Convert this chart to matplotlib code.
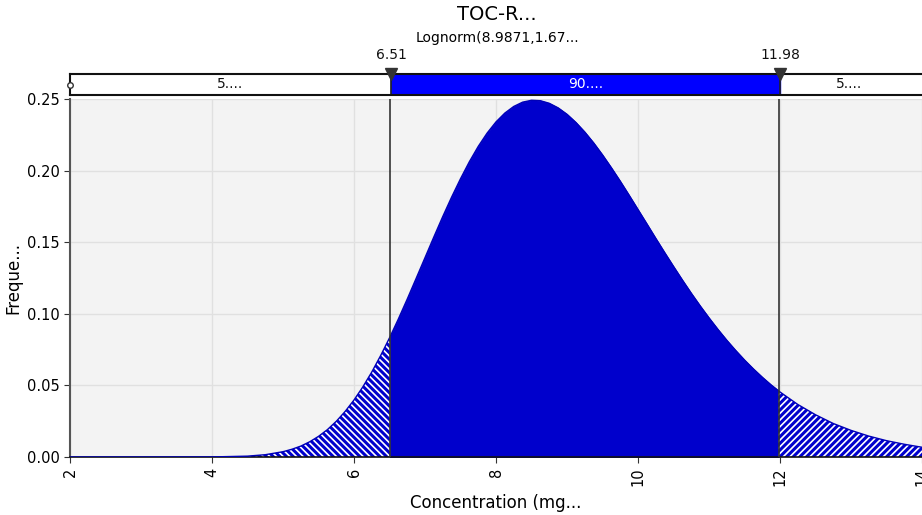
import matplotlib
matplotlib.use("Agg")
import matplotlib.pyplot as plt
import numpy as np

# ---- data ----
conc = [2.0, 3.0, 4.0, 4.5, 4.75, 5.0, 5.125, 5.25, 5.375, 5.5, 5.625, 5.75,
        5.875, 6.0, 6.125, 6.25, 6.375, 6.5, 6.51, 6.625, 6.75, 6.875, 7.0,
        7.125, 7.25, 7.375, 7.5, 7.625, 7.75, 7.875, 8.0, 8.125, 8.25, 8.375,
        8.5, 8.625, 8.75, 8.875, 9.0, 9.125, 9.25, 9.375, 9.5, 9.625, 9.75,
        9.875, 10.0, 10.125, 10.25, 10.375, 10.5, 10.625, 10.75, 10.875,
        11.0, 11.125, 11.25, 11.375, 11.5, 11.625, 11.75, 11.875, 11.98,
        12.0, 12.25, 12.5, 12.75, 13.0, 13.25, 13.5, 13.75, 14.0]
freq = [0.0, 0.0, 0.00005, 0.0006, 0.0016, 0.0037, 0.0054, 0.0076, 0.0106,
        0.0144, 0.0191, 0.0249, 0.0318, 0.0398, 0.0490, 0.0593, 0.0708,
        0.0832, 0.0842, 0.0964, 0.1103, 0.1247, 0.1392, 0.1537, 0.1679,
        0.1815, 0.1943, 0.2062, 0.2169, 0.2262, 0.2340, 0.2402, 0.2448,
        0.2478, 0.2491, 0.2488, 0.2470, 0.2438, 0.2393, 0.2336, 0.2269,
        0.2193, 0.2109, 0.2019, 0.1925, 0.1827, 0.1727, 0.1627, 0.1526,
        0.1427, 0.1330, 0.1235, 0.1143, 0.1055, 0.0971, 0.0891, 0.0815,
        0.0744, 0.0677, 0.0615, 0.0557, 0.0503, 0.0462, 0.0454, 0.0367,
        0.0295, 0.0234, 0.0186, 0.0146, 0.0114, 0.0089, 0.0068]
lo_mark, hi_mark = 6.51, 11.98
band_labels = ["5....", "90....", "5...."]
xticks = [2, 4, 6, 8, 10, 12, 14]
yticks = [0.00, 0.05, 0.10, 0.15, 0.20, 0.25]
title = "TOC-R..."
subtitle = "Lognorm(8.9871,1.67..."
xlabel = "Concentration (mg..."
ylabel = "Freque..."

x = np.array(conc)
y = np.array(freq)
xmin, xmax = 2.0, 13.97

fig = plt.figure(figsize=(9.22, 5.15), dpi=100)
plt.rcParams['hatch.linewidth'] = 1.2

ax = fig.add_axes([70/922, 1 - 457/515, 1 - 70/922, (457 - 99)/515])
ax.set_facecolor("#F3F3F3")
ax.set_xlim(xmin, xmax)
ax.set_ylim(0, 0.25)
ax.grid(True, color="#E0E0E0", lw=1)
ax.set_axisbelow(True)

main_blue = "#0000CC"
mL = x <= lo_mark
mM = (x >= lo_mark) & (x <= hi_mark)
mR = x >= hi_mark
ax.fill_between(x[mL], 0, y[mL], facecolor=main_blue, edgecolor="white",
                hatch="\\\\\\\\\\", lw=0, zorder=2)
ax.fill_between(x[mM], 0, y[mM], facecolor=main_blue, edgecolor=main_blue,
                lw=0.8, zorder=2)
ax.fill_between(x[mR], 0, y[mR], facecolor=main_blue, edgecolor="white",
                hatch="/////", lw=0, zorder=2)
ax.plot(x, y, color="#0000B8", lw=1.0, zorder=3)

for v in (lo_mark, hi_mark):
    ax.axvline(v, color="#333333", lw=1.2, zorder=4)

for s in ("top", "right"):
    ax.spines[s].set_visible(False)
ax.spines["left"].set_color("#555555")
ax.spines["left"].set_linewidth(1.5)
ax.spines["bottom"].set_color("#111111")
ax.spines["bottom"].set_linewidth(1.2)

ax.set_xticks(xticks)
ax.set_xticklabels([str(t) for t in xticks], rotation=90, fontsize=10.5)
ax.set_yticks(yticks)
ax.set_yticklabels([f"{t:.2f}" for t in yticks], fontsize=10.5)
ax.tick_params(axis="both", length=4, color="#333333")
ax.set_xlabel(xlabel, fontsize=12, labelpad=6)
ax.set_ylabel(ylabel, fontsize=12, labelpad=3)

# ---- band on top ----
bx = fig.add_axes([70/922, 1 - 95/515, 1 - 70/922, 21/515])
bx.set_xlim(xmin, xmax)
bx.set_ylim(0, 1)
bx.set_xticks([])
bx.set_yticks([])
bx.set_facecolor("white")
bx.axvspan(lo_mark, hi_mark, color="#0000FF", zorder=1)
for v in (lo_mark, hi_mark):
    bx.axvline(v, color="#222222", lw=1.2, zorder=2)
for s in bx.spines.values():
    s.set_color("#111111")
    s.set_linewidth(1.5)
bx.spines["right"].set_visible(False)
centers = [(xmin + lo_mark) / 2, (lo_mark + hi_mark) / 2, 12.95]
cols = ["#111111", "white", "#111111"]
for c, t, col in zip(centers, band_labels, cols):
    bx.text(c, 0.5, t, ha="center", va="center", fontsize=10, color=col)
for v in (lo_mark, hi_mark):
    bx.plot([v], [1.0], marker="v", ms=9, color="#333333", clip_on=False, zorder=5)
    bx.text(v, 1.55, f"{v:.2f}", ha="center", va="bottom", fontsize=10, color="#111111")
bx.plot([xmin], [0.5], marker="o", ms=4, mfc="white", mec="#333333", clip_on=False, zorder=5)

fig.text(497/922, 1 - 15/515, title, ha="center", va="center", fontsize=14)
fig.text(497/922, 1 - 38/515, subtitle, ha="center", va="center", fontsize=10)

fig.savefig("out.png", dpi=100)
